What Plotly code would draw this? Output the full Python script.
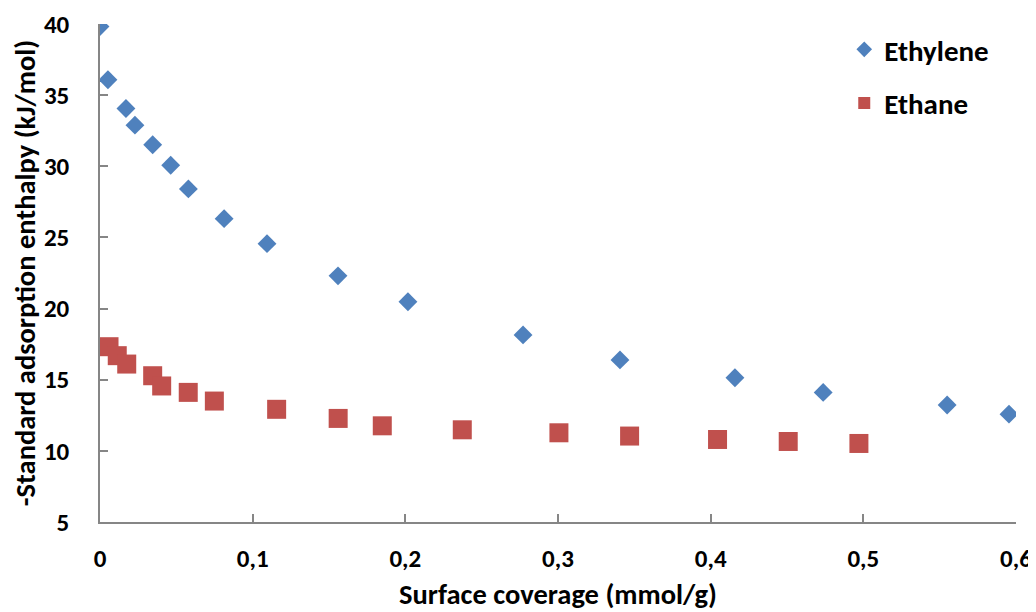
import plotly.graph_objects as go

ethylene_x = [0.0, 0.0052, 0.017, 0.0229, 0.0345, 0.0463, 0.0579, 0.0813, 0.1094, 0.1559, 0.2017, 0.2771, 0.3406, 0.4159, 0.4737, 0.5549, 0.5954]
ethylene_y = [39.82, 36.08, 34.06, 32.89, 31.51, 30.07, 28.41, 26.32, 24.56, 22.30, 20.48, 18.15, 16.39, 15.14, 14.11, 13.22, 12.58]

ethane_x = [0.0059, 0.0113, 0.0175, 0.0345, 0.0404, 0.0578, 0.0749, 0.1157, 0.156, 0.1849, 0.2373, 0.3006, 0.3469, 0.4045, 0.4508, 0.4971]
ethane_y = [17.32, 16.69, 16.10, 15.28, 14.56, 14.11, 13.50, 12.92, 12.28, 11.76, 11.48, 11.27, 11.04, 10.80, 10.66, 10.52]

x_ticks = [0, 0.1, 0.2, 0.3, 0.4, 0.5, 0.6]
x_tick_labels = ["0", "0,1", "0,2", "0,3", "0,4", "0,5", "0,6"]
y_ticks = [5, 10, 15, 20, 25, 30, 35, 40]

FONT = "Carlito, Lato, 'Open Sans', sans-serif"
AXIS_GREY = "#868686"

fig = go.Figure()
fig.add_trace(go.Scatter(
    x=ethylene_x, y=ethylene_y, mode="markers", name="Ethylene",
    legendgroup="a",
    marker=dict(symbol="diamond", size=14.5, color="#4F81BD"),
))
fig.add_trace(go.Scatter(
    x=ethane_x, y=ethane_y, mode="markers", name="Ethane",
    legendgroup="b",
    marker=dict(symbol="square", size=19, color="#C0504D"),
))
# empty trace so the overlay axis (inside tick marks) is drawn
fig.add_trace(go.Scatter(x=[], y=[], yaxis="y2", showlegend=False, hoverinfo="skip"))

tickfont = dict(family=FONT, size=25, color="black", weight="bold")

fig.update_layout(
    width=1028, height=604,
    margin=dict(l=92, r=20, t=16, b=90),
    plot_bgcolor="white", paper_bgcolor="white",
    font=dict(family=FONT, color="black"),
    xaxis=dict(
        range=[0, 0.6], tickvals=x_ticks, ticktext=x_tick_labels,
        showgrid=False, zeroline=False, showline=True, linecolor=AXIS_GREY, linewidth=1.5,
        ticks="inside", ticklen=8, tickcolor=AXIS_GREY, tickwidth=1.5,
        tickfont=tickfont, automargin=False,
        ticklabelstandoff=13,
        title=dict(text="<b>Surface coverage (mmol/g)</b>", font=dict(family=FONT, size=28.5), standoff=27),
    ),
    yaxis=dict(
        range=[5, 40], tickvals=y_ticks,
        showgrid=False, zeroline=False, showline=True, linecolor=AXIS_GREY, linewidth=1.5,
        ticks="outside", ticklen=24, tickcolor="rgba(0,0,0,0)",
        tickfont=tickfont, automargin=False,
        title=dict(text="<b>-Standard adsorption enthalpy (kJ/mol)</b>", font=dict(family=FONT, size=28.5), standoff=10),
    ),
    yaxis2=dict(
        range=[5, 40], tickvals=y_ticks, overlaying="y", side="left",
        showgrid=False, zeroline=False, showline=False, showticklabels=False,
        ticks="inside", ticklen=8, tickcolor=AXIS_GREY, tickwidth=1.5,
        automargin=False,
    ),
    legend=dict(
        x=0.8125, y=1.0, xanchor="left", yanchor="top",
        font=dict(family=FONT, size=29, color="black", weight="bold"),
        traceorder="grouped", tracegroupgap=13,
        bgcolor="rgba(0,0,0,0)", itemsizing="constant",
    ),
)

fig.write_html("out.html")
